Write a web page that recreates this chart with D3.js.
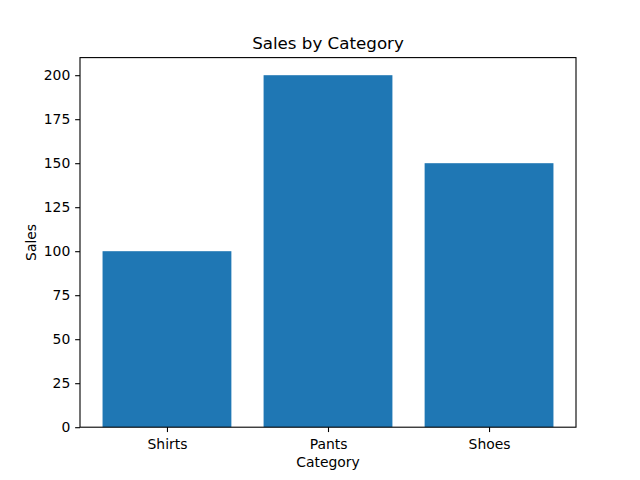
<!DOCTYPE html>
<html>
<head>
<meta charset="utf-8">
<script src="https://cdn.jsdelivr.net/npm/d3@7"></script>
<style>
  body { margin: 0; background: #fff; }
  svg text { font-family: "DejaVu Sans", sans-serif; fill: #000; }
</style>
</head>
<body>
<div id="chart"></div>
<script>
// chart data
const categories = ["Shirts", "Pants", "Shoes"];
const sales = [100, 200, 150];
const yTicks = [0, 25, 50, 75, 100, 125, 150, 175, 200];

const width = 640, height = 480;
const margin = { left: 80, right: 64, top: 57.6, bottom: 52.8 };
const plotW = width - margin.left - margin.right;
const plotH = height - margin.top - margin.bottom;

const svg = d3.select("#chart").append("svg")
    .attr("width", width).attr("height", height);

const g = svg.append("g").attr("transform", `translate(${margin.left},${margin.top})`);

// matplotlib-like limits: bars 0.8 wide, 5% margins
const barW = 0.8;
const lo = -barW / 2, hi = categories.length - 1 + barW / 2;
const pad = (hi - lo) * 0.05;
const x = d3.scaleLinear().domain([lo - pad, hi + pad]).range([0, plotW]);
const y = d3.scaleLinear().domain([0, d3.max(sales) * 1.05]).range([plotH, 0]);

// bars
g.selectAll(".bar").data(sales).join("rect")
    .attr("class", "bar")
    .attr("x", (d, i) => x(i - barW / 2))
    .attr("width", (d, i) => x(i + barW / 2) - x(i - barW / 2))
    .attr("y", d => y(d))
    .attr("height", d => y(0) - y(d))
    .attr("fill", "#1f77b4");

// axes
const tickLen = 4.86;
const xAxis = g.append("g").attr("transform", `translate(0,${plotH})`)
    .call(d3.axisBottom(x).tickValues(d3.range(categories.length))
        .tickFormat(i => categories[i]).tickSize(tickLen).tickPadding(6.5));
const yAxis = g.append("g")
    .call(d3.axisLeft(y).tickValues(yTicks).tickSize(tickLen).tickPadding(4.9));

[xAxis, yAxis].forEach(a => {
    a.select(".domain").remove();
    a.selectAll(".tick line").attr("stroke", "#000").attr("stroke-width", 1.1);
    a.selectAll(".tick text").style("font-size", "13.9px").attr("fill", "#000");
});
xAxis.selectAll(".tick text").attr("dy", "0.75em");

// frame
g.append("rect").attr("width", plotW).attr("height", plotH)
    .attr("fill", "none").attr("stroke", "#000").attr("stroke-width", 1.1);

// labels
svg.append("text").attr("x", margin.left + plotW / 2).attr("y", margin.top - 8.5)
    .attr("text-anchor", "middle").style("font-size", "16.7px").text("Sales by Category");
svg.append("text").attr("x", margin.left + plotW / 2).attr("y", 467)
    .attr("text-anchor", "middle").style("font-size", "13.9px").text("Category");
svg.append("text")
    .attr("transform", `translate(36,${margin.top + plotH / 2}) rotate(-90)`)
    .attr("text-anchor", "middle").style("font-size", "13.9px").text("Sales");
</script>
</body>
</html>
